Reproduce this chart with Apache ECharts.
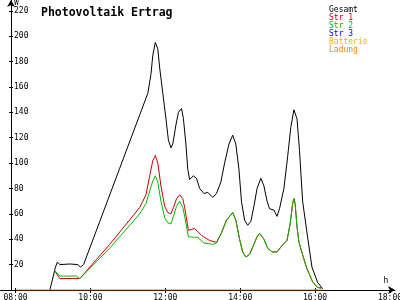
<!DOCTYPE html>
<html>
<head>
<meta charset="utf-8">
<script src="https://cdn.jsdelivr.net/npm/echarts@6/dist/echarts.min.js"></script>
<style>html,body{margin:0;padding:0;background:#fff}#c{width:400px;height:300px}</style>
</head>
<body>
<div id="c"></div>
<script>
const titleText = 'Photovoltaik Ertrag';
const seriesNames = ['Gesamt', 'Str 1', 'Str 2', 'Str 3', 'Batterie', 'Ladung'];
const xTickHours = [8, 10, 12, 14, 16, 18];
const yTickValues = [0, 20, 40, 60, 80, 100, 120, 140, 160, 180, 200, 220];

const gesamtTimes = ['08:55','09:04','09:07','09:11','09:27','09:40','09:44','09:49','10:15','10:47','11:19','11:32','11:37','11:40','11:44','11:48','11:51','11:56','12:01','12:05','12:09','12:12','12:17','12:21','12:26','12:29','12:33','12:36','12:39','12:45','12:50','12:55','13:02','13:08','13:16','13:22','13:29','13:35','13:42','13:48','13:53','13:58','14:02','14:07','14:12','14:17','14:22','14:27','14:33','14:38','14:43','14:47','14:54','14:59','15:03','15:10','15:16','15:21','15:26','15:31','15:35','15:40','15:47','15:55','16:04','16:12'];
const gesamtValues = [0,18,22,20,20.5,20,18,20,54,96,138,155,170,185,195,190,175,155,135,118,112,115,130,140,143,135,115,95,87,90,88,80,76,77,73,76,85,100,115,122,115,95,70,55,51,54,66,80,88,82,70,64,63,58,64,80,105,128,142,135,110,70,45,18,6,1];

const str1Times = ['09:03','09:11','09:43','09:46','10:31','11:19','11:29','11:35','11:40','11:44','11:48','11:53','11:59','12:04','12:09','12:13','12:18','12:23','12:28','12:31','12:37','12:47','12:58','13:11','13:22','13:30','13:38','13:48','13:53','13:59','14:04','14:09','14:15','14:22','14:27','14:31','14:38','14:44','14:51','14:59','15:07','15:15','15:20','15:24','15:26','15:28','15:31','15:34','15:38','15:46','15:56','16:04','16:10'];
const str1Values = [15,9,9,8,36,65,75,90,102,106,100,82,66,61,60,65,72,75,72,65,47,48.5,43,39,37.6,45,55,61,55,40,30,26,28,36,42,44.6,40,33,30,30,35,39,52,68,72,68,50,38,31,18,6.5,2,1.5];

const str2Times = ['09:03','09:11','09:37','09:43','09:46','10:31','11:19','11:29','11:35','11:40','11:44','11:48','11:53','11:59','12:04','12:09','12:13','12:18','12:23','12:28','12:31','12:37','12:47','12:52','13:02','13:16','13:22','13:30','13:38','13:48','13:53','13:59','14:04','14:09','14:15','14:22','14:27','14:31','14:38','14:44','14:51','14:59','15:07','15:15','15:20','15:24','15:26','15:28','15:31','15:34','15:38','15:46','15:56','16:04','16:10'];
const str2Values = [15,11,11,9,8,33,60,68,78,86,90,85,70,57,53,52,58,66,70,65,58,42,41.5,41.5,37,36,37,45,55,61,55,40,30,26,28,36,42,44.6,40,33,30,30,35,39,52,68,72,68,50,38,31,18,6.5,2,1.5];

const str3Times = [];
const str3Values = [];
const batterieTimes = [];
const batterieValues = [];
const ladungTimes = ['08:00','16:12'];
const ladungValues = [0, 0];

const colors = ['#000000', '#c80000', '#00bb00', '#0000ff', '#ffb000', '#ff8000'];
const zOrder = [10, 11, 12, 9, 13, 14];

function toHours(t) { const p = t.split(':'); return +p[0] + (+p[1]) / 60; }
function pairs(ts, vs) { return ts.map((t, i) => [toHours(t), vs[i]]); }
function pad(n) { return (n < 10 ? '0' : '') + n; }

const FONT = 'DejaVu Sans Mono';
const pxPerHour = 37.4;
const xMin = 8 - 15.5 / pxPerHour;
const xMax = 18 + 5 / pxPerHour;

const chart = echarts.init(document.getElementById('c'), null, {renderer: 'canvas'});
const seriesData = [
  pairs(gesamtTimes, gesamtValues),
  pairs(str1Times, str1Values),
  pairs(str2Times, str2Values),
  pairs(str3Times, str3Values),
  pairs(batterieTimes, batterieValues),
  pairs(ladungTimes, ladungValues)
];

chart.setOption({
  animation: false,
  backgroundColor: '#ffffff',
  textStyle: {fontFamily: FONT},
  title: {
    text: titleText, left: 36, top: 2,
    textStyle: {fontFamily: FONT, fontSize: 11.5, fontWeight: 'bold', color: '#000'}
  },
  legend: {
    orient: 'vertical', left: 319, top: 1, itemGap: 0, itemWidth: 0, itemHeight: 8,
    icon: 'none', selectedMode: false,
    textStyle: {fontFamily: FONT, fontSize: 8, lineHeight: 8},
    data: seriesNames.map((n, i) => ({name: n, textStyle: {color: colors[i]}}))
  },
  grid: {left: 0, right: 5, top: 0, bottom: 10, containLabel: false, outerBoundsMode: 'none'},
  xAxis: [{
    type: 'value', min: xMin, max: xMax,
    name: 'h', nameLocation: 'end', nameGap: -9,
    nameTextStyle: {fontFamily: FONT, fontSize: 8, color: '#000', align: 'center', verticalAlign: 'bottom', padding: [0, 0, 5, 0]},
    axisLine: {show: true, lineStyle: {color: '#000', width: 1}, symbol: ['none', 'arrow'], symbolSize: [6, 7]},
    axisTick: {show: true, length: 3, customValues: xTickHours, lineStyle: {color: '#000'}},
    axisLabel: {show: true, customValues: xTickHours, margin: 4, fontFamily: FONT, fontSize: 8, color: '#000',
      formatter: v => pad(Math.round(v)) + ':00'},
    splitLine: {show: false}
  }, {
    type: 'value', min: xMin, max: xMax, position: 'bottom',
    axisLine: {show: false},
    axisTick: {show: true, inside: true, length: 2, customValues: xTickHours, lineStyle: {color: '#000'}},
    axisLabel: {show: false},
    splitLine: {show: false}
  }],
  yAxis: [{
    type: 'value', min: 0, max: 228.5, offset: -11, position: 'left',
    name: 'W', nameLocation: 'end', nameGap: 0,
    nameTextStyle: {fontFamily: FONT, fontSize: 8, color: '#000', align: 'left', verticalAlign: 'top', padding: [0, 0, 0, 3]},
    axisLine: {show: true, lineStyle: {color: '#000', width: 1}, symbol: ['none', 'arrow'], symbolSize: [6, 7]},
    axisTick: {show: true, length: 2, customValues: yTickValues, lineStyle: {color: '#000'}},
    axisLabel: {show: true, inside: true, margin: 3, customValues: yTickValues.filter(v => v > 0),
      fontFamily: FONT, fontSize: 8, color: '#000'},
    splitLine: {show: false}
  }, {
    type: 'value', min: 0, max: 228.5, offset: -11, position: 'left',
    axisLine: {show: false},
    axisTick: {show: true, inside: true, length: 2, customValues: yTickValues, lineStyle: {color: '#000'}},
    axisLabel: {show: false},
    splitLine: {show: false}
  }],
  series: seriesNames.map((n, i) => ({
    name: n, type: 'line', data: seriesData[i], showSymbol: false, symbol: 'none',
    color: colors[i], lineStyle: {width: 1, color: colors[i]}, z: zOrder[i],
    xAxisIndex: 0, yAxisIndex: 0
  }))
});
</script>
</body>
</html>
